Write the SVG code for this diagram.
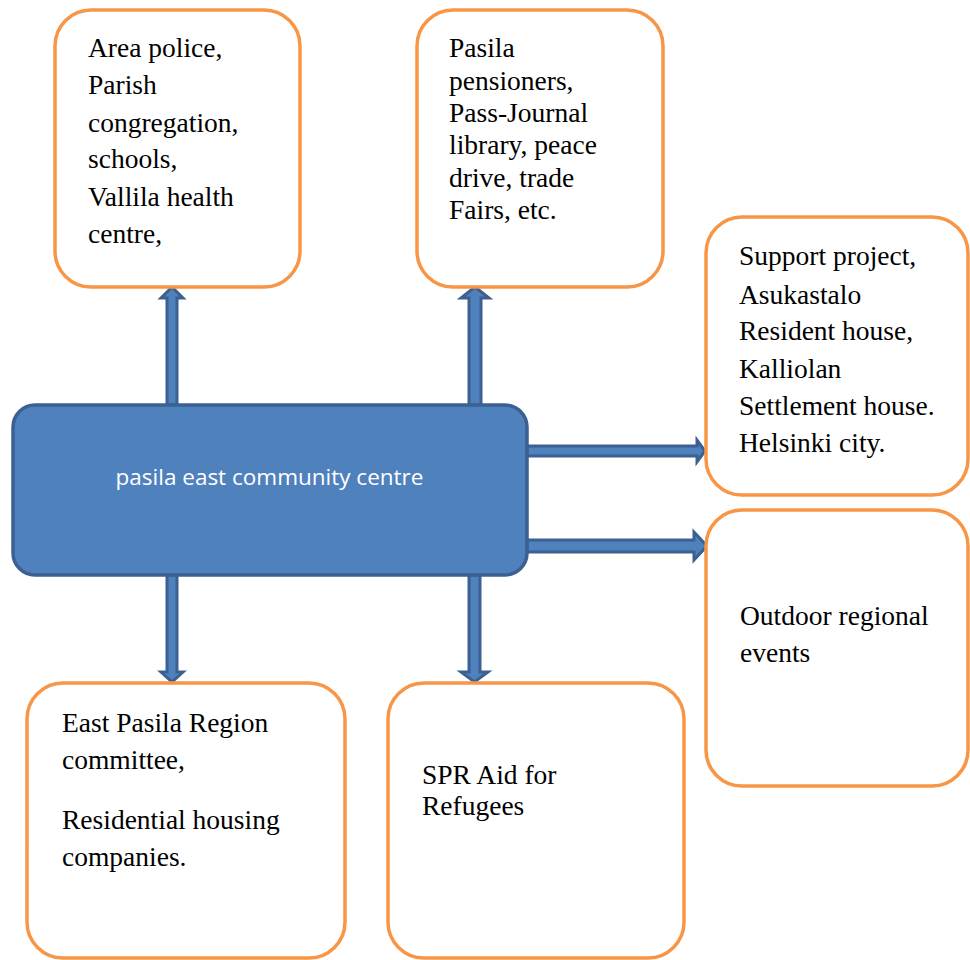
<svg xmlns="http://www.w3.org/2000/svg" width="970" height="960" viewBox="0 0 970 960">
<style>
.box{fill:#ffffff;stroke:#f79646;stroke-width:3.5}
.t{font-family:"Liberation Serif","DejaVu Serif","Times New Roman",serif;font-size:27.5px;fill:#000000}
.arr{fill:#4f81bd;stroke:#3b6091;stroke-width:3;stroke-linejoin:miter}
.main{fill:#4f81bd;stroke:#3b6091;stroke-width:3.5}
.mt{font-family:"Open Sans","Noto Sans",sans-serif;font-size:22.5px;fill:#ffffff}
</style>
<rect width="970" height="960" fill="#ffffff"/>
<g id="connectors">
<polygon class="arr" points="167,405 167,298 161,298 172,287 183,298 177,298 177,405"/>
<polygon class="arr" points="469,405 469,298 461,298 475,287 489,298 481,298 481,405"/>
<polygon class="arr" points="527,446 697,446 697,440 705,451 697,462 697,456 527,456"/>
<polygon class="arr" points="527,540 694,540 694,532 707,546 694,560 694,552 527,552"/>
<polygon class="arr" points="167,575 167,672 161,672 172,682 183,672 177,672 177,575"/>
<polygon class="arr" points="469,575 469,672 461,672 474.5,682 488,672 480,672 480,575"/>
</g>
<g id="main-node">
<rect class="main" x="13" y="405" width="514" height="170" rx="22"/>
<text class="mt" x="269.5" y="485" text-anchor="middle">pasila east community centre</text>
</g>
<g id="node-police">
<rect class="box" x="55" y="10" width="245" height="277" rx="36"/>
<text class="t" x="88" y="57">Area police,</text>
<text class="t" x="88" y="94">Parish</text>
<text class="t" x="88" y="132">congregation,</text>
<text class="t" x="88" y="168">schools,</text>
<text class="t" x="88" y="206">Vallila health</text>
<text class="t" x="88" y="243">centre,</text>
</g>
<g id="node-pensioners">
<rect class="box" x="417" y="10" width="246" height="277" rx="36"/>
<text class="t" x="449" y="57">Pasila</text>
<text class="t" x="449" y="90">pensioners,</text>
<text class="t" x="449" y="122">Pass-Journal</text>
<text class="t" x="449" y="154">library, peace</text>
<text class="t" x="449" y="187">drive, trade</text>
<text class="t" x="449" y="219">Fairs, etc.</text>
</g>
<g id="node-support">
<rect class="box" x="706" y="217" width="262" height="278" rx="36"/>
<text class="t" x="739" y="265">Support project,</text>
<text class="t" x="739" y="304">Asukastalo</text>
<text class="t" x="739" y="340">Resident house,</text>
<text class="t" x="739" y="378">Kalliolan</text>
<text class="t" x="739" y="415">Settlement house.</text>
<text class="t" x="739" y="452">Helsinki city.</text>
</g>
<g id="node-outdoor">
<rect class="box" x="706" y="510" width="262" height="276" rx="36"/>
<text class="t" x="740" y="625">Outdoor regional</text>
<text class="t" x="740" y="662">events</text>
</g>
<g id="node-region">
<rect class="box" x="27" y="683" width="318" height="275" rx="36"/>
<text class="t" x="62" y="732">East Pasila Region</text>
<text class="t" x="62" y="769">committee,</text>
<text class="t" x="62" y="829">Residential housing</text>
<text class="t" x="62" y="866">companies.</text>
</g>
<g id="node-spr">
<rect class="box" x="388" y="683" width="296" height="275" rx="36"/>
<text class="t" x="422" y="784">SPR Aid for</text>
<text class="t" x="422" y="815">Refugees</text>
</g>
</svg>
